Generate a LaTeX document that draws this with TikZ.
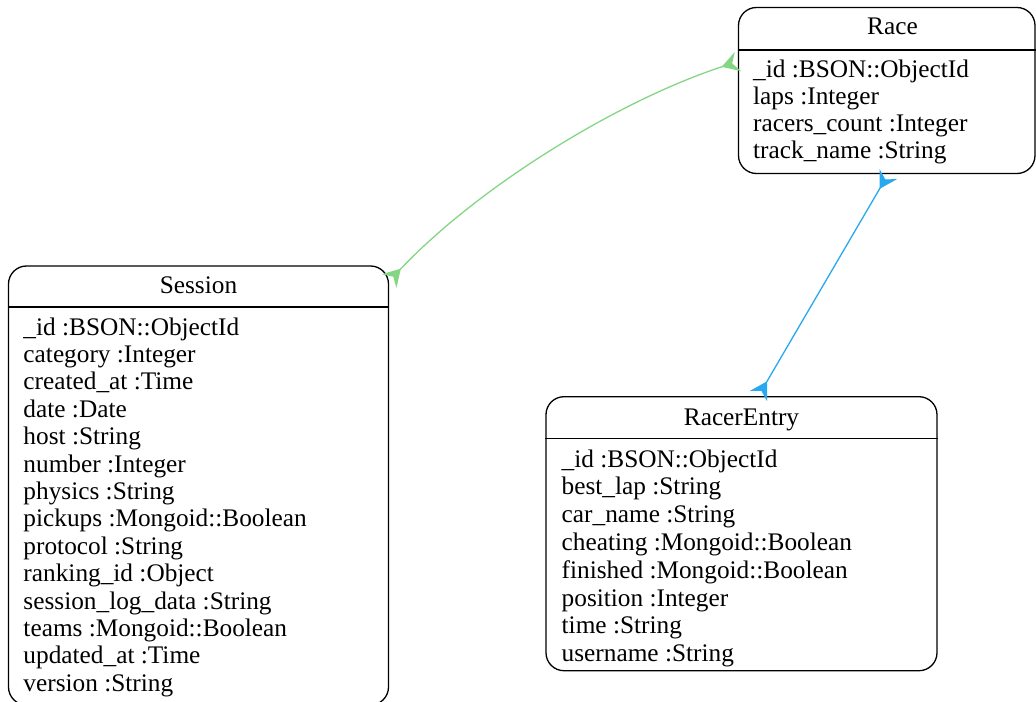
\documentclass[tikz,border=0pt]{standalone}
\usepackage{fontspec}
\setmainfont{Liberation Serif}
\usetikzlibrary{arrows.meta}
\definecolor{edgegreen}{RGB}{132,214,132}
\definecolor{edgeblue}{RGB}{40,168,238}
\tikzset{
  entbox/.style={draw=black, line width=1.3bp, rounded corners=18bp, rectangle, inner sep=0pt},
  divider/.style={draw=black, line width=1.3bp},
  ttl/.style={anchor=base, inner sep=0pt, font=\fontsize{25.4}{27.4}\selectfont},
  fld/.style={anchor=base west, inner sep=0pt, font=\fontsize{25.4}{27.4}\selectfont},
  crowtip/.tip={Stealth[reversed, length=17bp, width=20bp, inset=6bp]},
  rel/.style={line width=1.3bp, crowtip-crowtip},
}
\begin{document}
\begin{tikzpicture}[x=1bp, y=-1bp]
\useasboundingbox (0,0) rectangle (1036,702);
% Race
\node[entbox, minimum width=296.5bp, minimum height=166bp] (race) at (886.75,90.5) {};
\draw[divider] (race.west |- 0,50) -- (race.east |- 0,50);
\node[ttl] (raceT) at (892.5,35) {Race};
\foreach \t [count=\i from 0] in {\_id :BSON::ObjectId, laps :Integer, racers\_count :Integer, track\_name :String}
  \node[fld] (raceF\i) at (753,77.5+27.1*\i) {\t};
% Session
\node[entbox, minimum width=380bp, minimum height=439bp] (session) at (198.5,485.5) {};
\draw[divider] (session.west |- 0,307) -- (session.east |- 0,307);
\node[ttl] (sessionT) at (198.5,293.3) {Session};
\foreach \t [count=\i from 0] in {\_id :BSON::ObjectId, category :Integer, created\_at :Time, date :Date, host :String, number :Integer, physics :String, pickups :Mongoid::Boolean, protocol :String, ranking\_id :Object, session\_log\_data :String, teams :Mongoid::Boolean, updated\_at :Time, version :String}
  \node[fld] (sessionF\i) at (23.3,335+27.4*\i) {\t};
% RacerEntry
\node[entbox, minimum width=391bp, minimum height=274bp] (racer) at (741.5,533.7) {};
\draw[divider] (racer.west |- 0,438.3) -- (racer.east |- 0,438.3);
\node[ttl] (racerT) at (741.5,425) {RacerEntry};
\foreach \t [count=\i from 0] in {\_id :BSON::ObjectId, best\_lap :String, car\_name :String, cheating :Mongoid::Boolean, finished :Mongoid::Boolean, position :Integer, time :String, username :String}
  \node[fld] (racerF\i) at (561.5,467+27.8*\i) {\t};
% relations
\draw[rel, edgegreen] (race.169.6) .. controls (620,100) and (480,185) .. (session.47.4);
\draw[rel, edgeblue] (race.271) -- (racer.83.5);
\end{tikzpicture}
\end{document}
